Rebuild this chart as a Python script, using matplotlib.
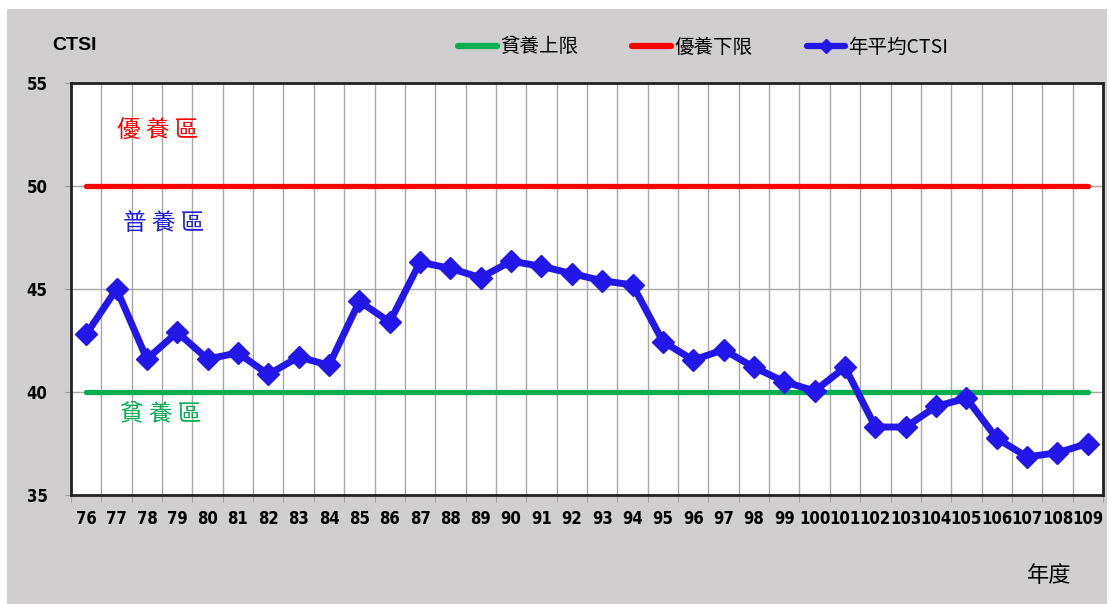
import numpy as np
import matplotlib.pyplot as plt
from matplotlib.lines import Line2D
from matplotlib.patches import Rectangle

# data
years = [str(y) for y in range(76, 110)]
ctsi = [42.8, 45.0, 41.6, 42.9, 41.6, 41.9, 40.85, 41.7, 41.3, 44.4,
        43.4, 46.3, 46.0, 45.55, 46.35, 46.1, 45.75, 45.4, 45.2, 42.45,
        41.55, 42.05, 41.2, 40.5, 40.05, 41.2, 38.3, 38.3, 39.3, 39.7,
        37.75, 36.85, 37.05, 37.5]
upper_eutro = 50   # 優養下限
lower_oligo = 40   # 貧養上限
y_ticks = [35, 40, 45, 50, 55]

cjk = ['Noto Sans CJK TC', 'DejaVu Sans']

BLUE = '#2316e8'
GREEN = '#00b050'
RED = '#ff0000'
GRAY_BG = '#d0cecf'

fig = plt.figure(figsize=(11.1, 6.04), dpi=100, facecolor='white')
fig.patches.append(Rectangle((7 / 1110, 0), 1100 / 1110, 1 - 9 / 604,
                             transform=fig.transFigure, facecolor=GRAY_BG,
                             edgecolor='none', zorder=-5))

ax = fig.add_axes([71 / 1110, 1 - 495 / 604, 1032 / 1110, 412 / 604])
ax.set_facecolor('white')
ax.set_zorder(1)

x = np.arange(len(years))
ax.plot([x[0], x[-1]], [lower_oligo] * 2, color=GREEN, lw=3.8,
        solid_capstyle='round', zorder=3)
ax.plot([x[0], x[-1]], [upper_eutro] * 2, color=RED, lw=3.8,
        solid_capstyle='round', zorder=3)
ax.plot(x, ctsi, color=BLUE, lw=5, marker='D', ms=11, mec=BLUE, mew=1,
        zorder=4)

ax.set_xlim(-0.5, len(years) - 0.5)
ax.set_ylim(35, 55)

tick_font = dict(family='DejaVu Sans', fontstretch='condensed',
                 fontweight='bold', fontsize=12)
ax.set_xticks(x)
ax.set_xticklabels(years, **tick_font)
ax.set_xticks(np.arange(-0.5, len(years)), minor=True)
ax.tick_params(axis='x', which='major', length=0, pad=11)
ax.tick_params(axis='x', which='minor', length=5, color='#999999', direction='out')
ax.set_yticks(y_ticks)
ax.set_yticklabels([str(v) for v in y_ticks], **tick_font)
ax.tick_params(axis='y', length=4, color='#999999', pad=13)

ax.grid(True, which='minor', axis='x', color='#a8a8a8', lw=1)
ax.grid(True, which='major', axis='y', color='#a8a8a8', lw=1)
ax.grid(False, which='major', axis='x')
ax.set_axisbelow(True)

for s in ax.spines.values():
    s.set_color('#222222')
    s.set_linewidth(2)

# zone labels
ax.text(2.34, 52.67, '優 養 區', color=RED, fontsize=17, family=cjk,
        ha='center', va='center')
ax.text(2.57, 48.2, '普 養 區', color='#1f1fe0', fontsize=17, family=cjk,
        ha='center', va='center')
ax.text(2.47, 38.93, '貧 養 區', color=GREEN, fontsize=17, family=cjk,
        ha='center', va='center')

fig.text(52 / 1110, 1 - 45 / 604, 'CTSI', fontsize=14, fontweight='bold',
         family=['Liberation Sans', 'DejaVu Sans'], va='center', ha='left')
fig.text(1049 / 1110, 1 - 575 / 604, '年度', fontsize=16, family=cjk,
         va='center', ha='center')

handles = [Line2D([], [], color=GREEN, lw=4.5, solid_capstyle='round'),
           Line2D([], [], color=RED, lw=4.5, solid_capstyle='round'),
           Line2D([], [], color=BLUE, lw=4.5, marker='D', ms=7,
                  solid_capstyle='round')]
labels = ['貧養上限', '優養下限', '年平均CTSI']
fig.legend(handles, labels, loc='center left',
           bbox_to_anchor=(458 / 1110, 1 - 47 / 604), ncol=3, frameon=False,
           prop={'family': cjk, 'size': 14}, handlelength=2.0,
           handletextpad=0.15, columnspacing=2.8, borderaxespad=0,
           borderpad=0)

fig.savefig('out.png', dpi=100, facecolor='white')
